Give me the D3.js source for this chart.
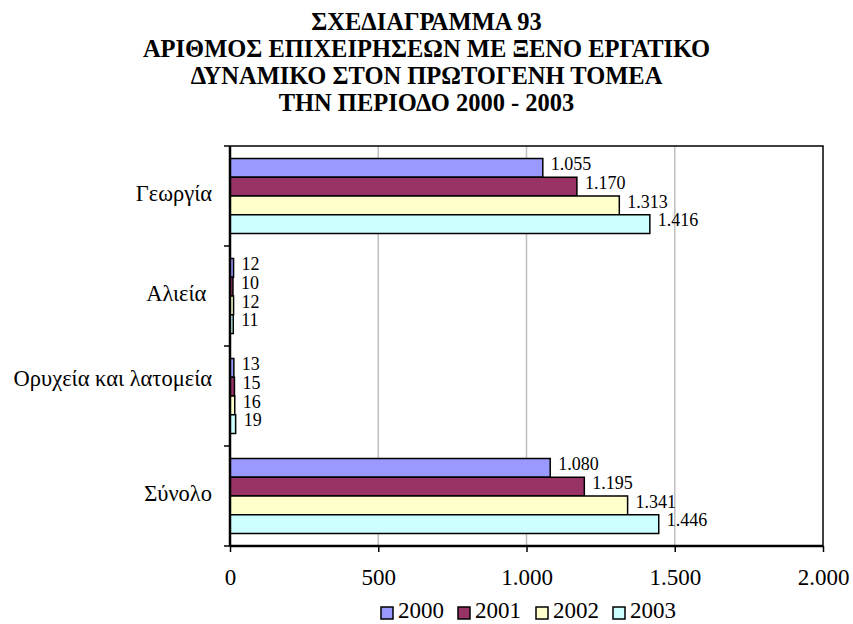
<!DOCTYPE html>
<html>
<head>
<meta charset="utf-8">
<script src="https://cdn.jsdelivr.net/npm/d3@7"></script>
<style>
  html, body { margin: 0; padding: 0; background: #fff; }
  svg { display: block; font-family: "Liberation Serif", "Times New Roman", serif; }
  text { white-space: pre; }
</style>
</head>
<body>
<svg id="chart" width="853" height="624"></svg>
<script>
// Businesses employing foreign workers in the primary sector, 2000-2003
const titleLines = [
  "ΣΧΕΔΙΑΓΡΑΜΜΑ 93",
  "ΑΡΙΘΜΟΣ ΕΠΙΧΕΙΡΗΣΕΩΝ ΜΕ ΞΕΝΟ ΕΡΓΑΤΙΚΟ",
  "ΔΥΝΑΜΙΚΟ ΣΤΟΝ ΠΡΩΤΟΓΕΝΗ ΤΟΜΕΑ",
  "ΤΗΝ ΠΕΡΙΟΔΟ 2000 - 2003"
];
const categories = ["Γεωργία", "Αλιεία ", "Ορυχεία και λατομεία", "Σύνολο"];
const years = ["2000", "2001", "2002", "2003"];
const values2000 = [1055, 12, 13, 1080];
const values2001 = [1170, 10, 15, 1195];
const values2002 = [1313, 12, 16, 1341];
const values2003 = [1416, 11, 19, 1446];
const xTicks = [0, 500, 1000, 1500, 2000];
const colors = ["#9999FF", "#993366", "#FFFFCC", "#CCFFFF"];

const seriesValues = [values2000, values2001, values2002, values2003];
const rows = categories.map((c, i) => ({
  category: c,
  values: years.map((y, j) => ({ year: y, value: seriesValues[j][i] }))
}));

const svg = d3.select("#chart");
const margin = { top: 146, right: 30, bottom: 78, left: 230 };
const W = 853, H = 624;
const innerW = W - margin.left - margin.right;
const innerH = H - margin.top - margin.bottom;

const grLocale = d3.formatLocale({ decimal: ",", thousands: ".", grouping: [3], currency: ["", "€"] });
const fmt = grLocale.format(",d");

// Title
svg.append("g")
  .selectAll("text")
  .data(titleLines)
  .join("text")
  .attr("x", W / 2)
  .attr("y", (d, i) => 29.5 + i * 27)
  .attr("text-anchor", "middle")
  .attr("font-size", 24.5)
  .attr("font-weight", "bold")
  .text(d => d);

const g = svg.append("g").attr("transform", `translate(${margin.left},${margin.top})`);

const x = d3.scaleLinear().domain([0, 2000]).range([0, innerW]);
const y0 = d3.scaleBand().domain(categories).range([0, innerH]).paddingInner(0.25).paddingOuter(0.125);
const y1 = d3.scaleBand().domain(years).range([0, y0.bandwidth()]);
const yCat = d3.scaleBand().domain(categories).range([0, innerH]);

// Vertical gridlines
g.append("g")
  .selectAll("line")
  .data(xTicks.filter(t => t > 0 && t < 2000))
  .join("line")
  .attr("x1", d => x(d)).attr("x2", d => x(d))
  .attr("y1", 0).attr("y2", innerH)
  .attr("stroke", "#BFBFBF")
  .attr("stroke-width", 1.5);

// Plot frame: top and right edges
g.append("path")
  .attr("d", `M0,0H${innerW}V${innerH}`)
  .attr("fill", "none")
  .attr("stroke", "#000")
  .attr("stroke-width", 1.5);

// Bars
const groups = g.append("g")
  .selectAll("g")
  .data(rows)
  .join("g")
  .attr("transform", d => `translate(0,${y0(d.category)})`);

groups.selectAll("rect")
  .data(d => d.values)
  .join("rect")
  .attr("x", x(0))
  .attr("y", d => y1(d.year))
  .attr("width", d => x(d.value) - x(0))
  .attr("height", y1.bandwidth())
  .attr("fill", (d, i) => colors[i])
  .attr("stroke", "#000")
  .attr("stroke-width", 1.5);

groups.selectAll("text")
  .data(d => d.values)
  .join("text")
  .attr("x", d => x(d.value) + 8)
  .attr("y", d => y1(d.year) + y1.bandwidth() / 2 - 2)
  .attr("dominant-baseline", "middle")
  .attr("font-size", 18)
  .text(d => fmt(d.value));

// Left axis ticks at category boundaries
g.append("g")
  .selectAll("line")
  .data(d3.range(categories.length + 1))
  .join("line")
  .attr("x1", -6).attr("x2", 0)
  .attr("y1", i => i * yCat.step()).attr("y2", i => i * yCat.step())
  .attr("stroke", "#000").attr("stroke-width", 1.5);

g.append("g")
  .selectAll("text")
  .data(categories)
  .join("text")
  .attr("x", -18)
  .attr("y", (d, i) => yCat(d) + yCat.bandwidth() / 2 + (i === 2 ? -15 : 0))
  .attr("text-anchor", "end")
  .attr("dominant-baseline", "middle")
  .attr("font-size", 22.5)
  .text(d => d);

// Bottom axis
const xAxis = g.append("g")
  .attr("transform", `translate(0,${innerH})`)
  .call(d3.axisBottom(x).tickValues(xTicks).tickSize(6).tickPadding(17).tickFormat(fmt));
xAxis.select(".domain").remove();
xAxis.selectAll(".tick line").attr("stroke", "#000").attr("stroke-width", 1.5);
xAxis.selectAll(".tick text")
  .attr("font-family", "Liberation Serif, Times New Roman, serif")
  .attr("font-size", 23)
  .attr("fill", "#000");

// Axis lines
g.append("line")
  .attr("x1", 0).attr("x2", 0).attr("y1", 0).attr("y2", innerH)
  .attr("stroke", "#000").attr("stroke-width", 2.5);
g.append("line")
  .attr("x1", 0).attr("x2", innerW).attr("y1", innerH).attr("y2", innerH)
  .attr("stroke", "#000").attr("stroke-width", 2.5);

// Legend
const legend = svg.append("g").attr("transform", "translate(381,612)");
const legendStep = [0, 77, 155, 232];
const items = legend.selectAll("g")
  .data(years)
  .join("g")
  .attr("transform", (d, i) => `translate(${legendStep[i]},0)`);
items.append("rect")
  .attr("x", 0).attr("y", -5)
  .attr("width", 12).attr("height", 12)
  .attr("fill", (d, i) => colors[i])
  .attr("stroke", "#000").attr("stroke-width", 1.5);
items.append("text")
  .attr("x", 17).attr("y", 1)
  .attr("dominant-baseline", "middle")
  .attr("font-size", 23)
  .text(d => d);
</script>
</body>
</html>
